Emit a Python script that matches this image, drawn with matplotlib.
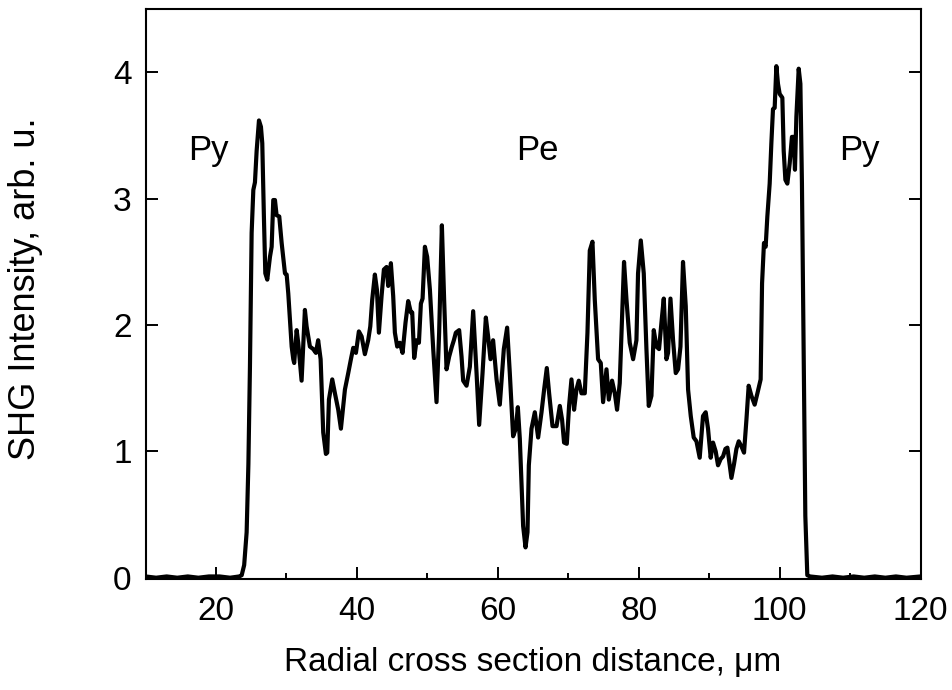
import matplotlib
matplotlib.use("Agg")
import matplotlib.pyplot as plt
from matplotlib.ticker import MultipleLocator

plt.rcParams['font.family'] = ['Liberation Sans', 'DejaVu Sans']

# Radial distance (um) and SHG intensity (arb. u.)
distance = [
    10.0, 11.5, 13.0, 14.5, 16.0, 17.5, 19.0, 20.5, 22.0, 23.3, 23.65, 24.0, 24.35, 24.6,
    24.82, 25.06, 25.3, 25.53, 25.77, 26.1, 26.38, 26.57, 26.8, 27.0, 27.28, 27.66,
    27.9, 28.13, 28.37, 28.6, 28.98, 29.32, 29.79, 30.03, 30.26, 30.74, 30.97, 31.1,
    31.45, 31.67, 32.15, 32.62, 32.86, 33.33, 33.8, 34.18, 34.5, 34.85, 35.22, 35.6,
    35.79, 36.03, 36.5, 36.88, 37.35, 37.73, 38.06, 38.3, 38.77, 39.15, 39.48, 39.86,
    40.28, 40.67, 41.13, 41.6, 41.9, 42.17, 42.55, 42.84, 43.12, 43.5, 43.83, 44.21,
    44.44, 44.82, 45.15, 45.39, 45.72, 46.1, 46.48, 46.9, 47.28, 47.66, 47.85, 48.13,
    48.47, 48.8, 49.08, 49.32, 49.65, 49.97, 50.36, 50.83, 51.3, 51.67, 52.06, 52.38,
    52.72, 53.09, 53.48, 53.76, 54.04, 54.51, 54.85, 55.08, 55.56, 56.03, 56.5, 56.98,
    57.35, 57.83, 58.3, 58.62, 58.96, 59.33, 59.82, 60.28, 60.85, 61.32, 61.7, 62.17,
    62.55, 62.84, 63.12, 63.59, 63.93, 64.21, 64.4, 64.78, 65.25, 65.72, 66.2, 66.57,
    66.95, 67.28, 67.76, 68.33, 68.8, 69.12, 69.4, 69.79, 70.11, 70.45, 70.82, 71.16,
    71.49, 71.87, 72.34, 72.72, 73.05, 73.43, 73.76, 74.23, 74.61, 74.94, 75.42, 75.75,
    76.21, 76.6, 76.92, 77.3, 77.55, 77.91, 78.26, 78.72, 79.2, 79.67, 79.9, 80.29,
    80.71, 81.09, 81.42, 81.8, 82.13, 82.51, 82.88, 83.22, 83.55, 83.93, 84.16, 84.5,
    84.87, 85.25, 85.58, 85.92, 86.28, 86.67, 87.0, 87.38, 87.8, 88.19, 88.65, 89.12,
    89.5, 89.83, 90.21, 90.54, 90.92, 91.25, 91.63, 91.96, 92.3, 92.58, 92.91, 93.15,
    93.52, 93.86, 94.19, 94.57, 94.94, 95.28, 95.6, 95.99, 96.45, 96.84, 97.3, 97.5,
    97.77, 98.01, 98.25, 98.58, 98.82, 99.05, 99.29, 99.53, 99.76, 100.0, 100.38,
    100.57, 100.81, 101.09, 101.42, 101.74, 101.99, 102.17, 102.37, 102.7, 102.94,
    103.16, 103.4, 103.64, 103.92, 104.3, 106.0, 107.5, 109.0, 110.5, 112.0, 113.5,
    115.0, 116.5, 118.0, 120.0,
]
intensity = [
    0.01, 0.00, 0.01, 0.00, 0.01, 0.00, 0.01, 0.01, 0.00, 0.01, 0.02, 0.10, 0.36, 0.90,
    1.67, 2.73, 3.07, 3.13, 3.38, 3.62, 3.57, 3.44, 2.86, 2.41, 2.36, 2.54,
    2.62, 2.99, 2.99, 2.87, 2.86, 2.65, 2.41, 2.40, 2.25, 1.83, 1.73, 1.70,
    1.96, 1.86, 1.56, 2.12, 1.99, 1.83, 1.81, 1.78, 1.88, 1.73, 1.15, 0.98,
    0.99, 1.41, 1.57, 1.46, 1.33, 1.18, 1.36, 1.49, 1.62, 1.73, 1.82, 1.78,
    1.95, 1.91, 1.77, 1.88, 1.99, 2.20, 2.40, 2.28, 1.94, 2.23, 2.44, 2.46,
    2.31, 2.49, 2.23, 1.94, 1.83, 1.86, 1.78, 2.02, 2.19, 2.10, 2.10, 1.74,
    1.88, 1.86, 2.17, 2.21, 2.62, 2.54, 2.28, 1.81, 1.39, 1.94, 2.79, 2.20,
    1.65, 1.75, 1.83, 1.88, 1.94, 1.96, 1.75, 1.56, 1.52, 1.67, 2.11, 1.62,
    1.21, 1.62, 2.06, 1.91, 1.73, 1.88, 1.57, 1.37, 1.81, 1.98, 1.62, 1.12,
    1.18, 1.35, 1.10, 0.41, 0.24, 0.36, 0.89, 1.18, 1.31, 1.11, 1.31, 1.49,
    1.66, 1.46, 1.20, 1.20, 1.36, 1.25, 1.07, 1.06, 1.36, 1.57, 1.33, 1.49,
    1.56, 1.46, 1.46, 1.94, 2.59, 2.66, 2.20, 1.73, 1.70, 1.39, 1.65, 1.41,
    1.56, 1.46, 1.33, 1.54, 1.94, 2.50, 2.20, 1.86, 1.73, 1.88, 2.41, 2.67,
    2.41, 1.81, 1.36, 1.44, 1.96, 1.83, 1.81, 2.02, 2.21, 1.73, 1.78, 2.21,
    1.88, 1.62, 1.65, 1.83, 2.50, 2.15, 1.49, 1.28, 1.11, 1.08, 0.95, 1.28,
    1.31, 1.18, 0.95, 1.07, 1.00, 0.89, 0.94, 0.96, 1.02, 1.03, 0.89, 0.79,
    0.90, 1.02, 1.08, 1.04, 0.99, 1.25, 1.52, 1.44, 1.37, 1.46, 1.57, 2.33,
    2.65, 2.62, 2.86, 3.12, 3.44, 3.71, 3.72, 4.05, 3.91, 3.83, 3.80,
    3.38, 3.15, 3.12, 3.28, 3.49, 3.49, 3.23, 3.65, 4.03, 3.91,
    3.12, 1.81, 0.49, 0.02, 0.01, 0.00, 0.01, 0.00, 0.01, 0.00, 0.01,
    0.00, 0.01, 0.00, 0.01,
]

region_labels = ["Py", "Pe", "Py"]
region_label_x = [18.9, 65.6, 111.3]
region_label_y = 3.38

fig = plt.figure(figsize=(9.53, 6.90), dpi=100)
ax = fig.add_axes([0.1527, 0.1609, 0.8133, 0.8256])

ax.plot(distance, intensity, color='black', linewidth=3.0, solid_joinstyle='round')

for lab, lx in zip(region_labels, region_label_x):
    ax.text(lx, region_label_y, lab, fontsize=25, ha='center', va='center')

ax.set_xlim(10, 120)
ax.set_ylim(-0.01, 4.5)
ax.xaxis.set_major_locator(MultipleLocator(20))
ax.xaxis.set_minor_locator(MultipleLocator(10))
ax.yaxis.set_major_locator(MultipleLocator(1))

ax.tick_params(axis='both', which='major', direction='in', length=8.5, width=1.4,
               labelsize=24)
ax.tick_params(axis='y', which='major', pad=10)
ax.tick_params(axis='x', which='major', pad=12)
ax.tick_params(axis='x', which='minor', direction='in', length=4, width=1.4)
ax.tick_params(axis='y', which='both', right=True)
ax.tick_params(axis='x', which='both', top=False)

for s in ax.spines.values():
    s.set_linewidth(1.5)

ax.set_xlabel("Radial cross section distance, \u03bcm", fontsize=24)
ax.set_ylabel("SHG Intensity, arb. u.", fontsize=26)
ax.xaxis.set_label_coords(0.5, -0.12)
ax.yaxis.set_label_coords(-0.132, 0.51)

fig.savefig("out.png", dpi=100)
